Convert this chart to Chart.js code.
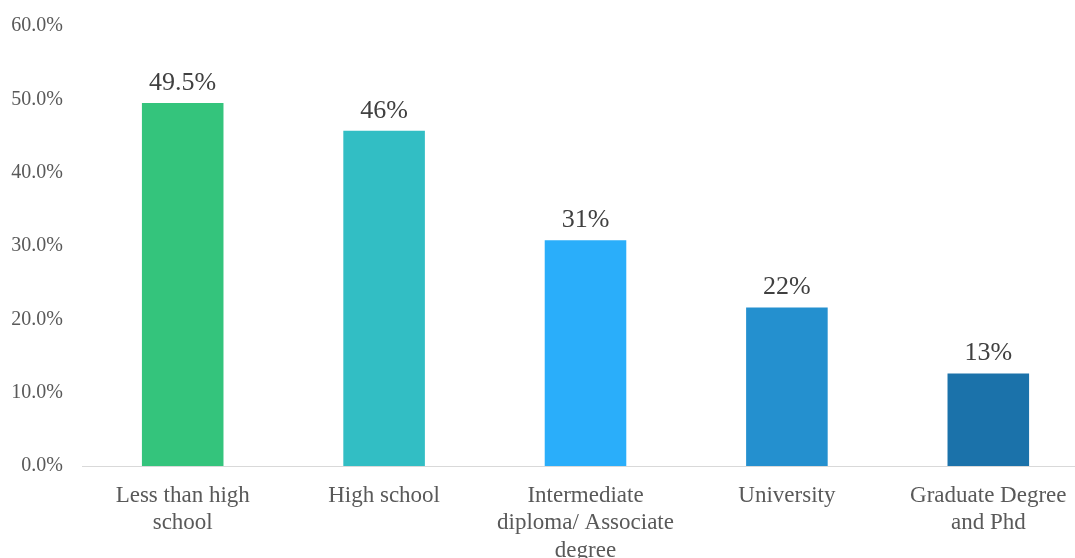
<!DOCTYPE html>
<html>
<head>
<meta charset="utf-8">
<script src="https://cdn.jsdelivr.net/npm/chart.js@4/dist/chart.umd.min.js"></script>
<style>
  html, body { margin: 0; padding: 0; background: #fff; overflow: hidden; }
  #wrap { position: relative; width: 1092px; height: 558px; }
</style>
</head>
<body>
<div id="wrap"><canvas id="eduChart"></canvas></div>
<script>
// data
const categories = [
    ['Less than high', 'school'],
    ['High school'],
    ['Intermediate', 'diploma/ Associate', 'degree'],
    ['University'],
    ['Graduate Degree', 'and Phd']
];
const values = [49.5, 45.7, 30.8, 21.6, 12.6];
const valueLabels = ['49.5%', '46%', '31%', '22%', '13%'];
const barColors = ['#34c47c', '#32bec4', '#2aaefa', '#2490cf', '#1b72aa'];
const yTicks = [0, 10, 20, 30, 40, 50, 60];

const fontFamily = '"Liberation Serif", "Times New Roman", serif';

// labels above the bars
const barLabels = {
    id: 'barLabels',
    afterDatasetsDraw(chart) {
        const ctx = chart.ctx;
        const meta = chart.getDatasetMeta(0);
        ctx.save();
        ctx.font = '26px ' + fontFamily;
        ctx.fillStyle = '#404040';
        ctx.textAlign = 'center';
        ctx.textBaseline = 'middle';
        meta.data.forEach((bar, i) => {
            ctx.fillText(valueLabels[i], bar.x, bar.y - 20);
        });
        ctx.restore();
    }
};

new Chart(document.getElementById('eduChart'), {
    type: 'bar',
    data: {
        labels: categories,
        datasets: [{
            data: values,
            backgroundColor: barColors,
            categoryPercentage: 1,
            barPercentage: 0.405
        }]
    },
    options: {
        responsive: true,
        maintainAspectRatio: false,
        animation: false,
        layout: { padding: { top: 26, right: 3, left: 0, bottom: 0 } },
        plugins: {
            legend: { display: false },
            tooltip: { enabled: false }
        },
        scales: {
            x: {
                grid: { display: false, drawTicks: false },
                border: { display: true, color: '#d9d9d9', width: 1 },
                ticks: {
                    color: '#595959',
                    padding: 16,
                    maxRotation: 0,
                    autoSkip: false,
                    font: { family: fontFamily, size: 23, lineHeight: 1.2 }
                },
                afterFit(scale) { scale.height = 92; }
            },
            y: {
                min: 0,
                max: 60,
                grid: { display: false, drawTicks: false },
                border: { display: false },
                afterBuildTicks(scale) {
                    scale.ticks = yTicks.map(v => ({ value: v }));
                },
                ticks: {
                    color: '#595959',
                    padding: 19,
                    font: { family: fontFamily, size: 20 },
                    callback: v => v.toFixed(1) + '%'
                },
                afterFit(scale) {
                    scale.width = 82;
                    scale.paddingTop = 0;
                    scale.paddingBottom = 0;
                }
            }
        }
    },
    plugins: [barLabels]
});
</script>
</body>
</html>
